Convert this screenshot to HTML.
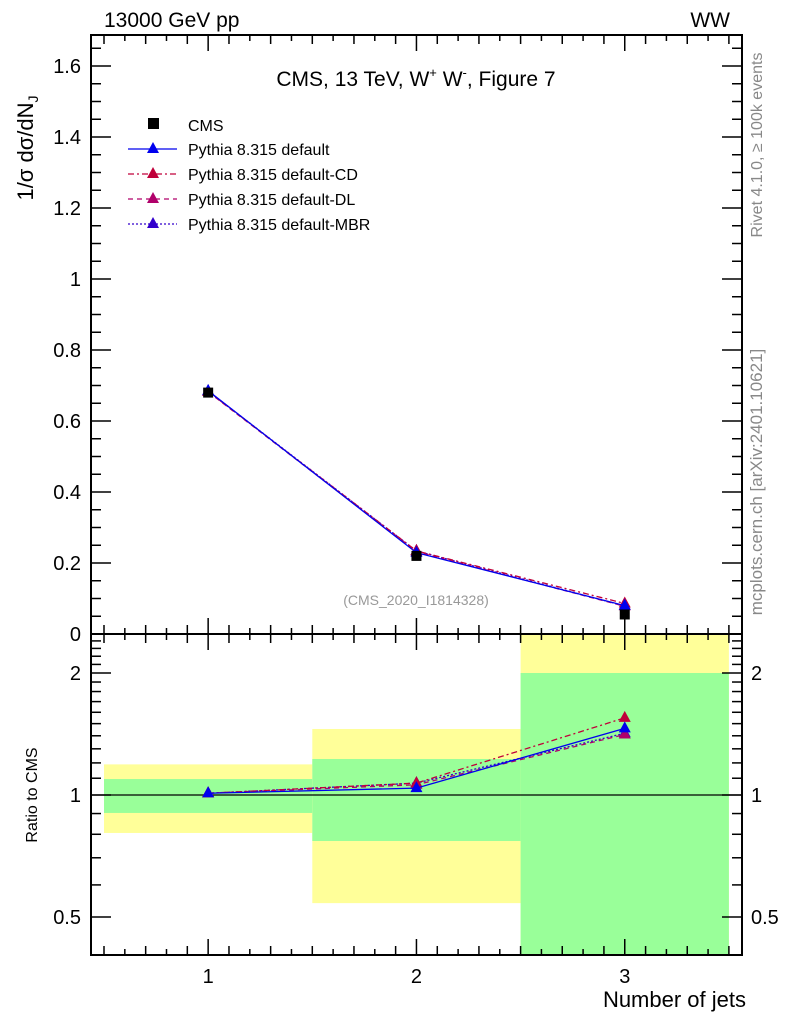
<!DOCTYPE html>
<html><head><meta charset="utf-8"><style>
body{margin:0;background:#fff}
svg{display:block;font-family:"Liberation Sans",sans-serif}
</style></head><body>
<svg id="c" width="786" height="1024" viewBox="0 0 786 1024"></svg>
<script>
const categories=[1,2,3];
const binLo=[0.5,1.5,2.5], binHi=[1.5,2.5,3.5];
const cmsVals=[0.68,0.22,0.055];
const seriesNames=["Pythia 8.315 default","Pythia 8.315 default-CD","Pythia 8.315 default-DL","Pythia 8.315 default-MBR"];
const mainDefault=[0.685,0.229,0.080];
const mainCD=[0.683,0.234,0.086];
const mainDL=[0.682,0.232,0.078];
const mainMBR=[0.684,0.234,0.079];
const ratioDefault=[1.01,1.04,1.46];
const ratioCD=[1.01,1.07,1.55];
const ratioDL=[1.01,1.06,1.41];
const ratioMBR=[1.01,1.07,1.42];
const bandYellowLo=[0.806,0.541,0.3];
const bandYellowHi=[1.19,1.455,3.0];
const bandGreenLo=[0.903,0.77,0.3];
const bandGreenHi=[1.095,1.227,2.0];
const mainTicks=[0,0.2,0.4,0.6,0.8,1,1.2,1.4,1.6];
const mainTickLabels=["0","0.2","0.4","0.6","0.8","1","1.2","1.4","1.6"];
const ratioTicks=[0.5,1,2];
const ratioTickLabels=["0.5","1","2"];

const NS="http://www.w3.org/2000/svg";
const svg=document.getElementById('c');
const L=91,R=742,T=35,MB=634,RB=955;
const X=v=>104+(v-0.5)*208.3;
const Y=v=>MB-v*355;
const YR=v=>795-Math.log2(v)*122;
function el(tag,attrs,parent,text){const e=document.createElementNS(NS,tag);for(const k in attrs)e.setAttribute(k,attrs[k]);if(text!==undefined)e.textContent=text;(parent||svg).appendChild(e);return e;}

const defs=el('defs',{});
const cp=el('clipPath',{id:'rc'},defs);el('rect',{x:L,y:MB,width:R-L,height:RB-MB},cp);
const rg=el('g',{'clip-path':'url(#rc)'});


for(let i=0;i<3;i++){
  const y=el('rect',{x:X(binLo[i]),width:X(binHi[i])-X(binLo[i]),y:YR(bandYellowHi[i]),height:YR(bandYellowLo[i])-YR(bandYellowHi[i]),fill:'#ffff99'},rg);
  
  
  const g=el('rect',{x:X(binLo[i]),width:X(binHi[i])-X(binLo[i]),y:YR(bandGreenHi[i]),height:YR(bandGreenLo[i])-YR(bandGreenHi[i]),fill:'#99ff99'},rg);
  
  
}
el('line',{x1:L,x2:R,y1:YR(1),y2:YR(1),stroke:'#000','stroke-width':1.2});

el('rect',{x:L,y:T,width:R-L,height:MB-T,fill:'none',stroke:'#000','stroke-width':2});
el('rect',{x:L,y:MB,width:R-L,height:RB-MB,fill:'none',stroke:'#000','stroke-width':2});

for(const pan of [[T,MB],[MB,RB]]){
  for(let k=0;k<=30;k++){
    const v=0.5+k*0.1;
    const big=Math.abs(v-Math.round(v))<0.01;
    const x=X(v);if(x<L||x>R)continue;
    const h=big?16:(k%2===1?6:9);
    el('line',{x1:x,x2:x,y1:pan[1],y2:pan[1]-h,stroke:'#000','stroke-width':1.5});
    el('line',{x1:x,x2:x,y1:pan[0],y2:pan[0]+h,stroke:'#000','stroke-width':1.5});
  }
}
for(let k=0;k<=34;k++){
  const v=k*0.05;
  const big=k%4===0;const y=Y(v);if(y<T)continue;const h=big?20:10;
  el('line',{x1:L,x2:L+h,y1:y,y2:y,stroke:'#000','stroke-width':1.5});
  el('line',{x1:R,x2:R-h,y1:y,y2:y,stroke:'#000','stroke-width':1.5});
}
mainTicks.forEach((v,i)=>{const t=el('text',{x:81,y:Y(v)+7,'text-anchor':'end','font-size':20},svg,mainTickLabels[i]);});
for(const v of [0.4,0.5,0.6,0.7,0.8,0.9,1,1.1,1.2,1.3,1.4,1.5,1.6,1.7,1.8,1.9,2,2.1,2.2,2.3,2.4,2.5]){
  const big=[0.5,1,2].includes(v);const y=YR(v);if(y<MB||y>RB)continue;const h=big?20:10;
  el('line',{x1:L,x2:L+h,y1:y,y2:y,stroke:'#000','stroke-width':1.5});
  el('line',{x1:R,x2:R-h,y1:y,y2:y,stroke:'#000','stroke-width':1.5});
}
ratioTicks.forEach((v,i)=>{
  el('text',{x:81,y:YR(v)+7,'text-anchor':'end','font-size':20},svg,ratioTickLabels[i]);
  el('text',{x:751,y:YR(v)+7,'font-size':20},svg,ratioTickLabels[i]);
});
categories.forEach(c=>{const t=el('text',{x:X(c),y:983,'text-anchor':'middle','font-size':20},svg,String(c));});

const cols=['#0000ee','#c0003a','#b0006a','#3300cc'];
const dashes=['none','6,3,2,3','5,4','2,2'];
const mains=[mainDefault,mainCD,mainDL,mainMBR];
const ratios=[ratioDefault,ratioCD,ratioDL,ratioMBR];
function tri(x,y,c,p){el('polygon',{points:`${x},${y-7} ${x-6},${y+4} ${x+6},${y+4}`,fill:c},p);}
[3,2,1,0].forEach(s=>{
  const g=el('g',{});
  
  
  el('polyline',{points:categories.map((c,i)=>X(c)+','+Y(mains[s][i])).join(' '),fill:'none',stroke:cols[s],'stroke-width':1.3,'stroke-dasharray':dashes[s]},g);
  categories.forEach((c,i)=>tri(X(c),Y(mains[s][i]),cols[s],g));
  const rg2=el('g',{'clip-path':'url(#rc)'},g);
  el('polyline',{points:categories.map((c,i)=>X(c)+','+YR(ratios[s][i])).join(' '),fill:'none',stroke:cols[s],'stroke-width':1.3,'stroke-dasharray':dashes[s]},rg2);
  categories.forEach((c,i)=>tri(X(c),YR(ratios[s][i]),cols[s],rg2));
});
const cg=el('g',{});


categories.forEach((c,i)=>el('rect',{x:X(c)-5,y:Y(cmsVals[i])-5,width:10,height:10,fill:'#000'},cg));

el('text',{x:104,y:27,'font-size':21},svg,'13000 GeV pp');
el('text',{x:730,y:27,'font-size':21,'text-anchor':'end'},svg,'WW');
const tt=el('text',{x:416,y:86,'font-size':21,'text-anchor':'middle'});
tt.innerHTML='CMS, 13 TeV, W<tspan font-size="13" dy="-9">+</tspan><tspan dy="9"> W</tspan><tspan font-size="13" dy="-9">-</tspan><tspan dy="9">, Figure 7</tspan>';
el('text',{x:416,y:605,'font-size':14,'text-anchor':'middle',fill:'#999'},svg,'(CMS_2020_I1814328)');
el('text',{x:746,y:1007,'font-size':22,'text-anchor':'end'},svg,'Number of jets');
const yl=el('text',{transform:'translate(33,148) rotate(-90)','font-size':22,'text-anchor':'middle'});
yl.innerHTML='1/σ dσ/dN<tspan font-size="14" dy="5">J</tspan>';
el('text',{transform:'translate(37,795) rotate(-90)','font-size':16,'text-anchor':'middle'},svg,'Ratio to CMS');
el('text',{transform:'translate(762,145) rotate(-90)','font-size':16,'text-anchor':'middle',fill:'#888'},svg,'Rivet 4.1.0, ≥ 100k events');
el('text',{transform:'translate(762,482) rotate(-90)','font-size':17,'text-anchor':'middle',fill:'#888'},svg,'mcplots.cern.ch [arXiv:2401.10621]');
const lg=el('g',{});


el('rect',{x:148,y:118,width:11,height:11,fill:'#000'},lg);
el('text',{x:188,y:131,'font-size':16},lg,'CMS');
seriesNames.forEach((n,i)=>{
  const y=149+i*25;
  el('line',{x1:128,x2:177,y1:y,y2:y,stroke:cols[i],'stroke-width':1.3,'stroke-dasharray':dashes[i]},lg);
  tri(153,y,cols[i],lg);
  el('text',{x:188,y:y+6,'font-size':16},lg,n);
});
</script>
</body></html>
